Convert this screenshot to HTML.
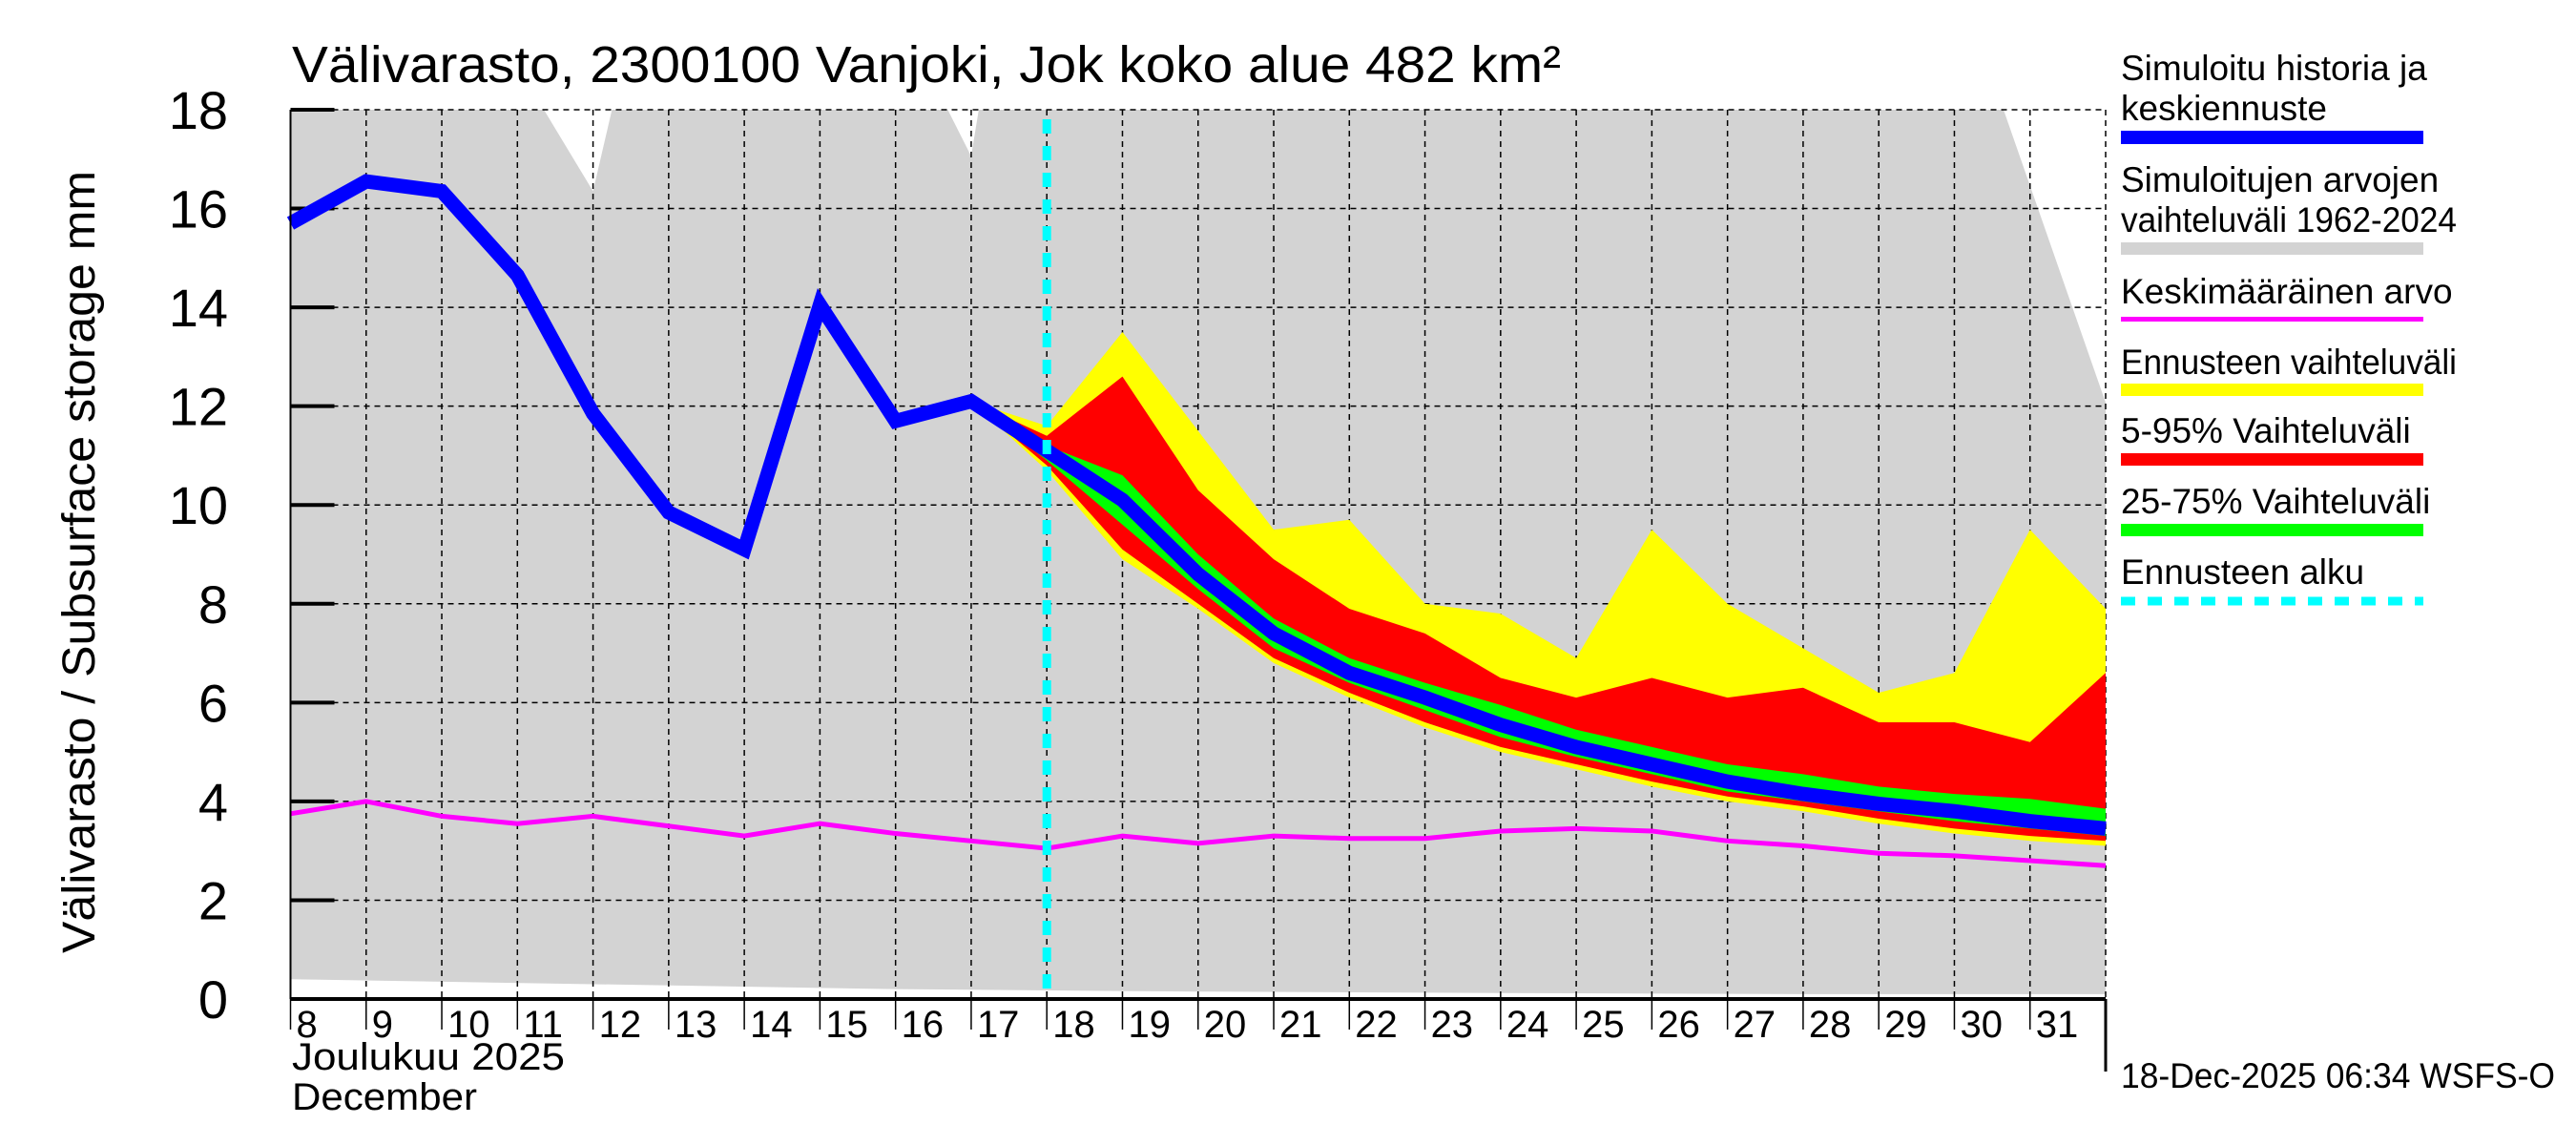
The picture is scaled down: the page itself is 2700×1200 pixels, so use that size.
<!DOCTYPE html>
<html><head><meta charset="utf-8">
<style>
html,body{margin:0;padding:0;background:#fff;}
svg{display:block;font-family:"Liberation Sans",Arial,sans-serif;}
</style></head>
<body>
<svg id="chart" width="2700" height="1200" viewBox="0 0 2700 1200" xmlns="http://www.w3.org/2000/svg">
<rect x="0" y="0" width="2700" height="1200" fill="#fff"/>
<g id="plot"></g>
<text x="306" y="86" font-size="54" textLength="1330" lengthAdjust="spacingAndGlyphs">Välivarasto, 2300100 Vanjoki, Jok koko alue 482 km²</text>
<text transform="translate(83,589) rotate(-90)" text-anchor="middle" font-size="48" dy="16" textLength="820" lengthAdjust="spacingAndGlyphs">Välivarasto / Subsurface storage  mm</text>
<text x="306" y="1121" font-size="40" textLength="286" lengthAdjust="spacingAndGlyphs">Joulukuu  2025</text>
<text x="306" y="1163" font-size="40" textLength="194" lengthAdjust="spacingAndGlyphs">December</text>
<text x="2223" y="1140" font-size="37" textLength="455" lengthAdjust="spacingAndGlyphs">18-Dec-2025 06:34 WSFS-O</text>
<g font-size="37">
  <text x="2223" y="84">Simuloitu historia ja</text>
  <text x="2223" y="126">keskiennuste</text>
  <rect x="2223" y="137" width="317" height="14" fill="#0000ff"/>
  <text x="2223" y="201">Simuloitujen arvojen</text>
  <text x="2223" y="243" textLength="352" lengthAdjust="spacingAndGlyphs">vaihteluväli 1962-2024</text>
  <rect x="2223" y="254" width="317" height="13" fill="#d3d3d3"/>
  <text x="2223" y="318">Keskimääräinen arvo</text>
  <rect x="2223" y="332" width="317" height="5" fill="#ff00ff"/>
  <text x="2223" y="392" textLength="352" lengthAdjust="spacingAndGlyphs">Ennusteen vaihteluväli</text>
  <rect x="2223" y="402" width="317" height="13" fill="#ffff00"/>
  <text x="2223" y="464">5-95% Vaihteluväli</text>
  <rect x="2223" y="475" width="317" height="13" fill="#ff0000"/>
  <text x="2223" y="538">25-75% Vaihteluväli</text>
  <rect x="2223" y="549" width="317" height="13" fill="#00ff00"/>
  <text x="2223" y="612">Ennusteen alku</text>
  <line x1="2223" y1="630" x2="2540" y2="630" stroke="#00ffff" stroke-width="9" stroke-dasharray="15,13"/>
</g>
</svg>
<script>
const days = [8,9,10,11,12,13,14,15,16,17,18,19,20,21,22,23,24,25,26,27,28,29,30,31,32];
const simulated = [15.7,16.55,16.35,14.65,11.85,9.85,9.1,14.05,11.7,12.1,11.1,10.1,8.6,7.4,6.6,6.1,5.55,5.1,4.75,4.4,4.15,3.95,3.8,3.6,3.45];
const meanValues = [3.75,4.0,3.7,3.55,3.7,3.5,3.3,3.55,3.35,3.2,3.05,3.3,3.15,3.3,3.25,3.25,3.4,3.45,3.4,3.2,3.1,2.95,2.9,2.8,2.7];
const histUpperDays = [8,11.35,12,12.25,16.69,17,17.1,30.65,32];
const histUpper = [18,18,16.35,18,18,17.06,18,18,12.07];
const histLowerDays = [8,12,16,20,24,28,32];
const histLower = [0.4,0.3,0.2,0.15,0.12,0.1,0.1];
const fcDays = [17,18,19,20,21,22,23,24,25,26,27,28,29,30,31,32];
const yellowHigh = [12.1,11.6,13.5,11.5,9.5,9.7,8.0,7.8,6.9,9.5,8.0,7.1,6.2,6.6,9.5,7.9];
const yellowLow = [12.1,10.7,8.9,7.9,6.8,6.1,5.5,5.0,4.65,4.3,4.0,3.8,3.55,3.35,3.2,3.1];
const redHigh = [12.1,11.4,12.6,10.3,8.9,7.9,7.4,6.5,6.1,6.5,6.1,6.3,5.6,5.6,5.2,6.6];
const redLow = [12.1,10.8,9.1,8.0,6.9,6.2,5.6,5.1,4.75,4.4,4.1,3.9,3.65,3.45,3.3,3.2];
const greenHigh = [12.1,11.2,10.6,9.0,7.7,6.9,6.4,5.95,5.45,5.1,4.75,4.55,4.3,4.15,4.05,3.85];
const greenLow = [12.1,10.9,9.6,8.3,7.1,6.4,5.85,5.3,4.9,4.55,4.2,4.0,3.8,3.6,3.45,3.3];
const yTicks = [0,2,4,6,8,10,12,14,16,18];
const xTickLabels = ["8","9","10","11","12","13","14","15","16","17","18","19","20","21","22","23","24","25","26","27","28","29","30","31"];
const forecastStart = 18.0;

const X0=304.5, X1=2207, Y0=1047, Y1=115, D0=8, D1=32, V1=18;
function xs(d){return X0+(d-D0)*(X1-X0)/(D1-D0);}
function ys(v){return Y0-v*(Y0-Y1)/V1;}
const NS="http://www.w3.org/2000/svg";
const plot=document.getElementById('plot');
function mk(tag,attrs){const e=document.createElementNS(NS,tag);for(const k in attrs)e.setAttribute(k,attrs[k]);plot.appendChild(e);return e;}
function band(dx,hi,dx2,lo){let p=dx.map((d,i)=>xs(d)+','+ys(hi[i]));for(let i=dx2.length-1;i>=0;i--)p.push(xs(dx2[i])+','+ys(lo[i]));return p.join(' ');}
function line(dx,v){return dx.map((d,i)=>xs(d)+','+ys(v[i])).join(' ');}

let e;
e=mk('polygon',{points:band(histUpperDays,histUpper,histLowerDays,histLower),fill:'#d3d3d3'});



yTicks.forEach(v=>{
  e=mk('line',{x1:X0,x2:X1,y1:ys(v),y2:ys(v),stroke:'#000','stroke-width':1.5,'stroke-dasharray':'6,5'});
  
  
  e=mk('line',{x1:X0,x2:X0+46,y1:ys(v),y2:ys(v),stroke:'#000','stroke-width':4});
  
  
  e=mk('text',{x:239,y:ys(v)+20,'text-anchor':'end','font-size':56});
  e.textContent=String(v);
  
  
});
xTickLabels.forEach((lab,i)=>{
  const d=D0+i;
  e=mk('line',{x1:xs(d),x2:xs(d),y1:Y1,y2:Y0,stroke:'#000','stroke-width':1.5,'stroke-dasharray':'6,5'});
  
  
  e=mk('line',{x1:xs(d),x2:xs(d),y1:Y0,y2:Y0+32,stroke:'#000','stroke-width':1.5});
  
  
  e=mk('text',{x:xs(d)+6,y:Y0+40,'font-size':40,'text-anchor':'start'});
  e.textContent=lab;
  
  
});
e=mk('line',{x1:X1,x2:X1,y1:Y1,y2:Y0,stroke:'#000','stroke-width':1.5,'stroke-dasharray':'6,5'});



e=mk('polygon',{points:band(fcDays,yellowHigh,fcDays,yellowLow),fill:'#ffff00'});


e=mk('polygon',{points:band(fcDays,redHigh,fcDays,redLow),fill:'#ff0000'});


e=mk('polygon',{points:band(fcDays,greenHigh,fcDays,greenLow),fill:'#00ff00'});



e=mk('polyline',{points:line(days,meanValues),fill:'none',stroke:'#ff00ff','stroke-width':5});


e=mk('polyline',{points:line(days,simulated),fill:'none',stroke:'#0000ff','stroke-width':15,'stroke-linejoin':'miter'});



e=mk('line',{x1:xs(forecastStart),x2:xs(forecastStart),y1:Y1+10,y2:Y0,stroke:'#00ffff','stroke-width':9,'stroke-dasharray':'15,13'});



e=mk('line',{x1:X0,x2:X1,y1:Y0,y2:Y0,stroke:'#000','stroke-width':4});


e=mk('line',{x1:X0,x2:X0,y1:Y1,y2:Y0,stroke:'#000','stroke-width':2});


e=mk('line',{x1:X1,x2:X1,y1:Y0,y2:1123,stroke:'#000','stroke-width':3});


</script>
</body></html>
